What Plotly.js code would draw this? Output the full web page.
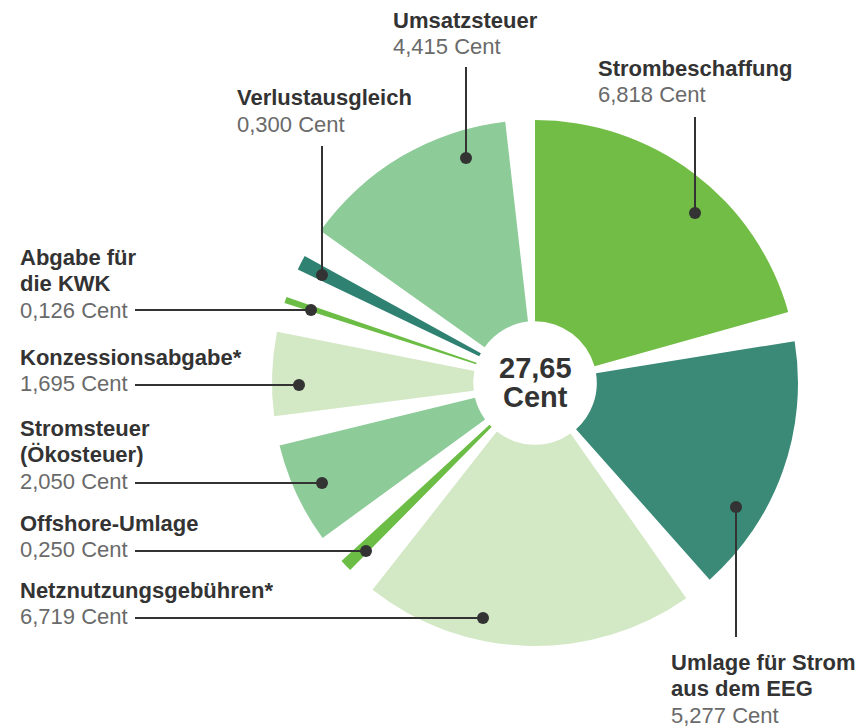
<!DOCTYPE html>
<html>
<head>
<meta charset="utf-8">
<script src="https://cdn.plot.ly/plotly-3.0.1.min.js"></script>
<style>html,body{margin:0;padding:0;background:#fff;}#chart{width:861px;height:728px;}</style>
</head>
<body>
<div id="chart"></div>
<script>
// ---- data ----
const categories = ['Strombeschaffung', 'Umlage für Strom\naus dem EEG', 'Netznutzungsgebühren*', 'Offshore-Umlage',
  'Stromsteuer\n(Ökosteuer)', 'Konzessionsabgabe*', 'Abgabe für\ndie KWK', 'Verlustausgleich', 'Umsatzsteuer'];
const values = [6.818, 5.277, 6.719, 0.250, 2.050, 1.695, 0.126, 0.300, 4.415];
const unit = 'Cent';

// ---- style ----
const colors = ['#72bd45', '#3a8a77', '#d3e8c5', '#6cbd45', '#8dcb98', '#d3e8c5', '#6cbd45', '#2f8272', '#8dcb98'];
// label placement (pixels): text left x, first line y; callout line and dot
const labelPos = [
  {x: 598, y: 68,  line: [[695, 117], [695, 213]]},
  {x: 671, y: 662, line: [[736, 637], [736, 507]]},
  {x: 20,  y: 590, line: [[135, 618], [483, 618]]},
  {x: 20,  y: 523, line: [[135, 551], [366, 551]]},
  {x: 20,  y: 428, line: [[135, 483], [322, 483]]},
  {x: 20,  y: 357, line: [[135, 385], [299, 385]]},
  {x: 20,  y: 257, line: [[135, 310], [311, 310]]},
  {x: 237, y: 98,  line: [[322, 146], [322, 275]]},
  {x: 393, y: 20,  line: [[466, 67],  [466, 158]]}
];
const W = 861, H = 728;
const CX = 535, CY = 383, R = 263;
const GAP_DEG = 6.5;
const LINE_H = 26.5;
const FONT = 'Liberation Sans, Arial, Helvetica, sans-serif';

const px = x => x / W;
const py = y => 1 - y / H;

const total = values.reduce((a, b) => a + b, 0);
const gapVal = (GAP_DEG / 360) * total / (1 - values.length * GAP_DEG / 360);

const pv = [], pl = [], pc = [];
values.forEach((v, i) => {
  pv.push(v); pl.push(categories[i].replace('\n', ' ')); pc.push(colors[i]);
  pv.push(gapVal); pl.push('gap' + i); pc.push('rgba(0,0,0,0)');
});

const trace = {
  type: 'pie',
  values: pv,
  labels: pl,
  marker: {colors: pc, line: {width: 0}},
  sort: false,
  direction: 'clockwise',
  rotation: 0,
  hole: 0.235,
  textinfo: 'none',
  hoverinfo: 'none',
  showlegend: false,
  domain: {x: [px(CX - R), px(CX + R)], y: [py(CY + R), py(CY - R)]}
};

const annotations = [];
const shapes = [];
values.forEach((v, i) => {
  const p = labelPos[i];
  const lines = categories[i].split('\n');
  lines.forEach((t, k) => {
    annotations.push({xref: 'paper', yref: 'paper', x: px(p.x - 2), y: py(p.y + k * LINE_H),
      xanchor: 'left', yanchor: 'middle', showarrow: false, text: '<b>' + t + '</b>',
      font: {family: FONT, size: 22, color: '#333333'}});
  });
  annotations.push({xref: 'paper', yref: 'paper', x: px(p.x - 2), y: py(p.y + lines.length * LINE_H),
    xanchor: 'left', yanchor: 'middle', showarrow: false,
    text: v.toFixed(3).replace('.', ',') + ' ' + unit,
    font: {family: FONT, size: 22, color: '#6a6a6a'}});
  const [a, b] = p.line;
  shapes.push({type: 'line', xref: 'paper', yref: 'paper', x0: px(a[0]), y0: py(a[1]), x1: px(b[0]), y1: py(b[1]),
    line: {color: '#333333', width: 2}});
  const r = 6;
  shapes.push({type: 'circle', xref: 'paper', yref: 'paper', x0: px(b[0] - r), y0: py(b[1] - r), x1: px(b[0] + r), y1: py(b[1] + r),
    fillcolor: '#333333', line: {width: 0}});
});

annotations.push({xref: 'paper', yref: 'paper', x: px(CX), y: py(CY - 15), xanchor: 'center', yanchor: 'middle', showarrow: false,
  text: '<b>' + total.toFixed(2).replace('.', ',') + '</b>', font: {family: FONT, size: 29, color: '#333333'}});
annotations.push({xref: 'paper', yref: 'paper', x: px(CX), y: py(CY + 14), xanchor: 'center', yanchor: 'middle', showarrow: false,
  text: '<b>' + unit + '</b>', font: {family: FONT, size: 29, color: '#333333'}});

const layout = {
  width: W, height: H,
  margin: {l: 0, r: 0, t: 0, b: 0},
  paper_bgcolor: '#ffffff',
  plot_bgcolor: '#ffffff',
  showlegend: false,
  annotations: annotations,
  shapes: shapes
};

Plotly.newPlot('chart', [trace], layout, {displayModeBar: false, staticPlot: true});
</script>
</body>
</html>
